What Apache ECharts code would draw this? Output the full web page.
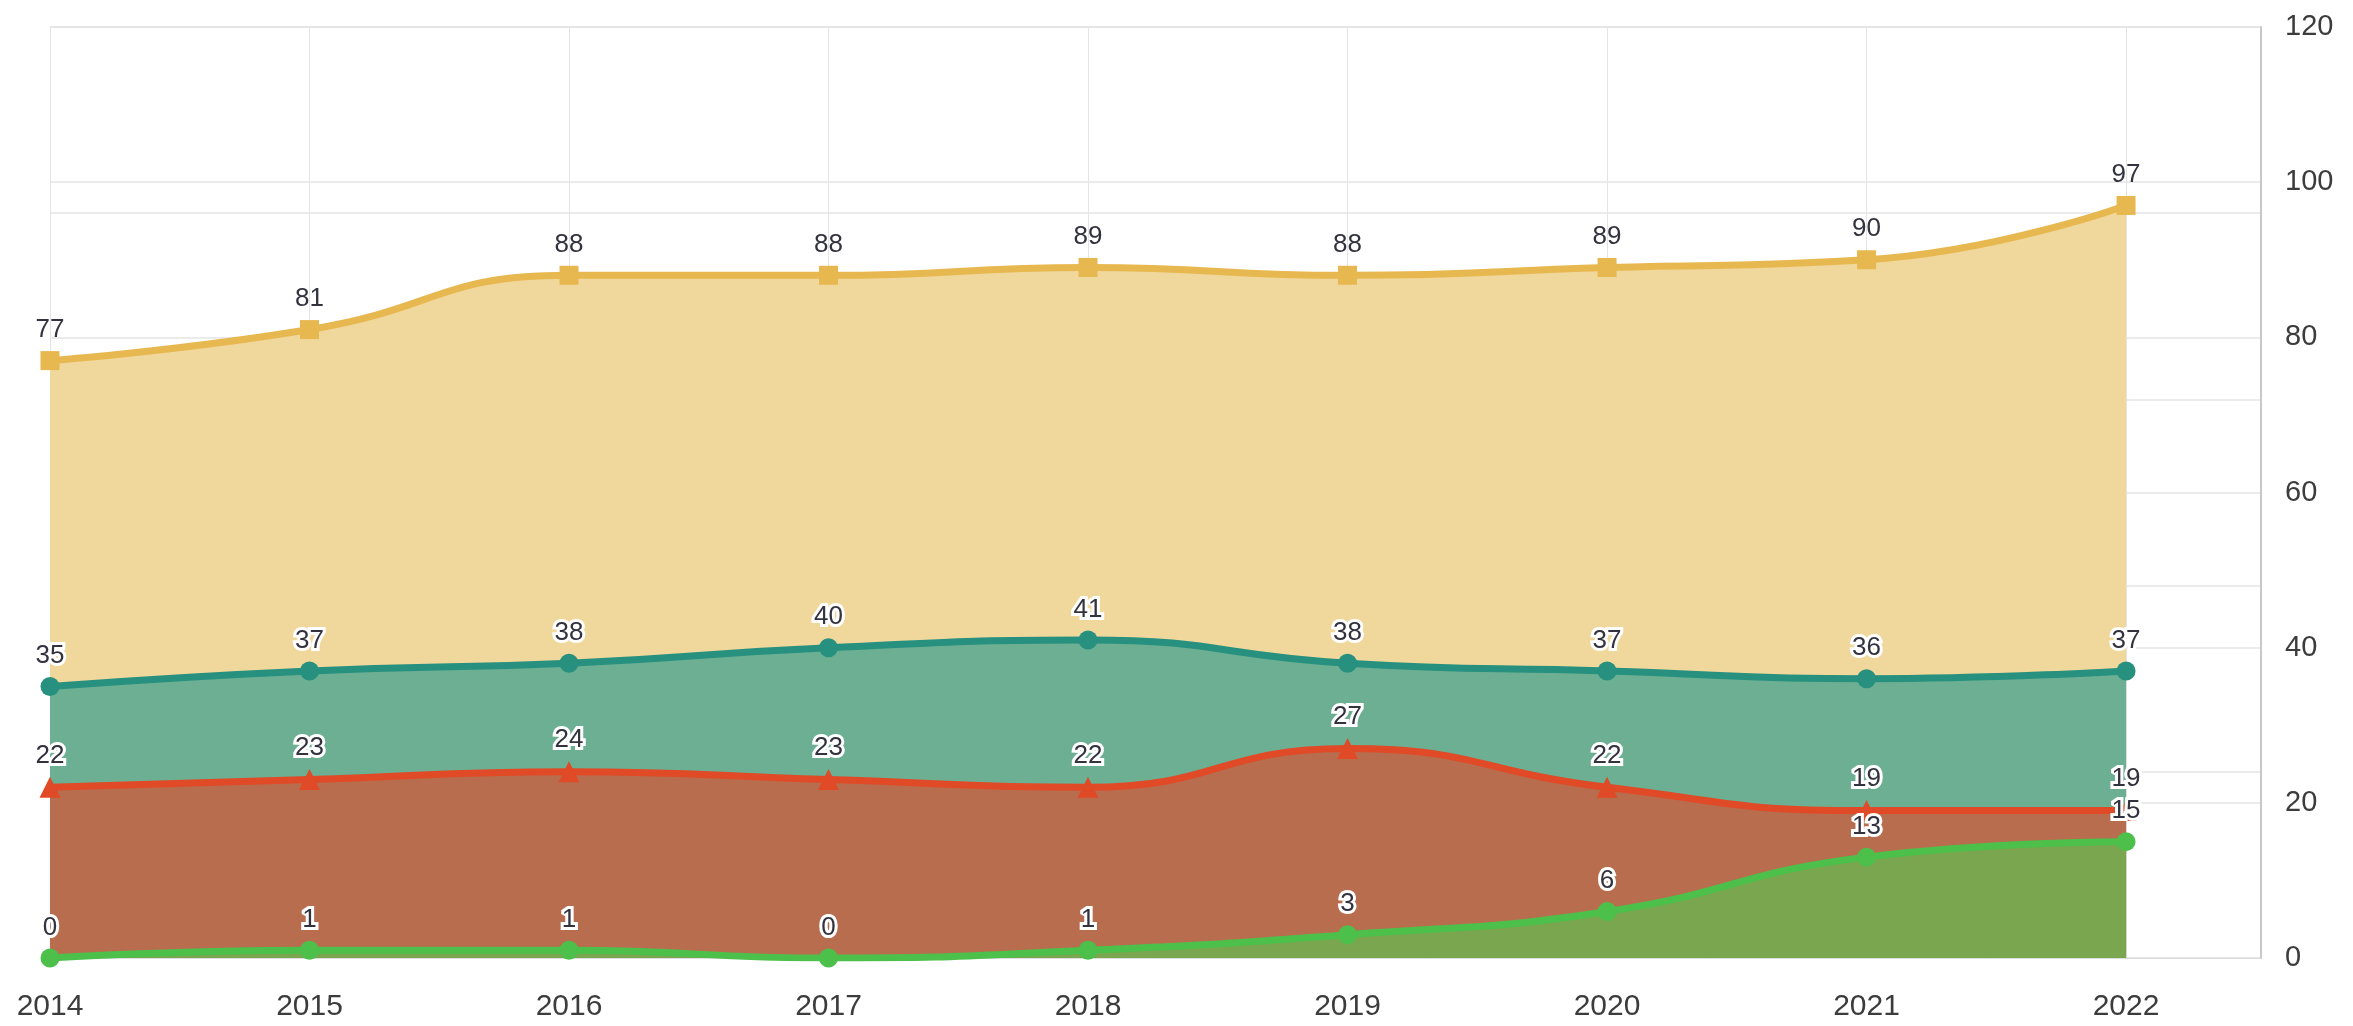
<!DOCTYPE html>
<html>
<head>
<meta charset="utf-8">
<script src="https://cdn.jsdelivr.net/npm/echarts@6/dist/echarts.min.js"></script>
<style>
  html, body { margin: 0; padding: 0; background: #fff; }
  #chart { width: 2353px; height: 1026px; }
</style>
</head>
<body>
<div id="chart"></div>
<script>
// data
const years = [2014, 2015, 2016, 2017, 2018, 2019, 2020, 2021, 2022];
const yellowVals = [77, 81, 88, 88, 89, 88, 89, 90, 97];
const tealVals = [35, 37, 38, 40, 41, 38, 37, 36, 37];
const redVals = [22, 23, 24, 23, 22, 27, 22, 19, 19];
const greenVals = [0, 1, 1, 0, 1, 3, 6, 13, 15];

const font = 'Liberation Sans';

const pairs = (vals) => years.map((y, i) => [y, vals[i]]);

const makeSeries = (vals, lineColor, areaColor, symbol, halo) => ({
	type: 'line',
	yAxisIndex: 1,
	data: pairs(vals),
	smooth: 0.5,
	symbol: symbol,
	symbolSize: symbol === 'triangle' ? 21 : 19,
	lineStyle: { width: 7, color: lineColor },
	itemStyle: { color: lineColor },
	areaStyle: { color: areaColor, opacity: 1 },
	label: {
		show: true,
		position: 'top',
		distance: 8,
		fontFamily: font,
		fontSize: 26,
		color: '#333340',
		textBorderColor: halo ? '#fff' : 'transparent',
		textBorderWidth: halo ? 6 : 0,
		formatter: (p) => p.value[1]
	}
});

const chart = echarts.init(document.getElementById('chart'));

chart.setOption({
	animation: false,
	backgroundColor: '#fff',
	grid: { left: 50, right: 92, top: 27, bottom: 68 },
	xAxis: {
		type: 'value',
		min: 2014,
		max: 2022.52,
		interval: 1,
		axisLine: { show: true, lineStyle: { color: '#dcdcdc' } },
		axisTick: { show: false },
		splitLine: { show: true, lineStyle: { color: '#e4e4e4' } },
		axisLabel: {
			margin: 34,
			fontFamily: font,
			fontSize: 30,
			color: '#3c3c3c',
			formatter: (v) => (Number.isInteger(v) ? String(v) : '')
		}
	},
	yAxis: [
		{
			// hidden left axis, only its grid lines are seen
			type: 'value',
			position: 'left',
			min: 0,
			max: 120,
			interval: 24,
			axisLine: { show: false },
			axisTick: { show: false },
			axisLabel: { show: false },
			splitLine: { show: true, lineStyle: { color: '#e4e4e4', width: 1.5 } }
		},
		{
			type: 'value',
			position: 'right',
			min: 0,
			max: 120,
			interval: 20,
			axisLine: { show: true, lineStyle: { color: '#c8c8c8', width: 2 } },
			axisTick: { show: false },
			splitLine: { show: true, lineStyle: { color: '#e4e4e4', width: 1.5 } },
			axisLabel: {
				margin: 24,
				fontFamily: font,
				fontSize: 29,
				color: '#3c3c3c'
			}
		}
	],
	series: [
		makeSeries(yellowVals, '#e8b850', '#f0d79b', 'rect', false),
		makeSeries(tealVals, '#27907f', '#6caf93', 'circle', true),
		makeSeries(redVals, '#e04a26', '#b86d4e', 'triangle', true),
		makeSeries(greenVals, '#4dbf4b', '#79a64e', 'circle', true)
	]
});
</script>
</body>
</html>
